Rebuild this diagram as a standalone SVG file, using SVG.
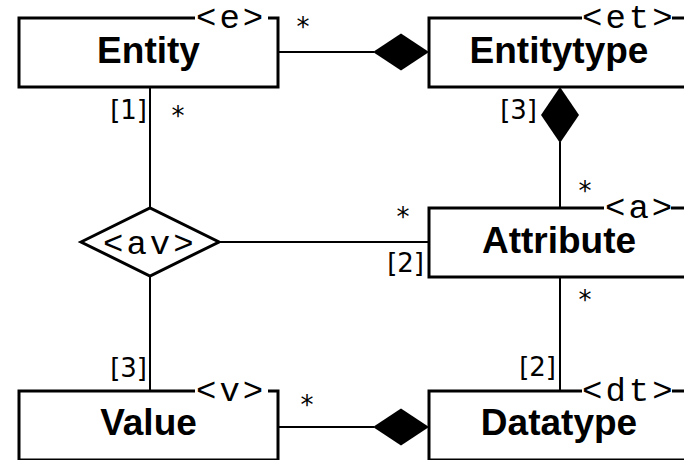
<svg xmlns="http://www.w3.org/2000/svg" width="684" height="460" viewBox="0 0 684 460">
<style>
.box{fill:#fff;stroke:#000;stroke-width:3}
.name{font-family:"Liberation Sans",Arial,sans-serif;font-weight:bold;font-size:37px;text-anchor:middle;fill:#000}
.tag{font-family:"Liberation Mono","Courier New",monospace;font-size:34px;letter-spacing:3px;fill:#000}
.bg{fill:#fff}
.card{font-family:"DejaVu Sans",sans-serif;font-size:26px;fill:#000}
.end{text-anchor:end}
.mid{text-anchor:middle}
.line{stroke:#000;stroke-width:2;fill:none}
.comp{fill:#000}
</style>
<rect width="684" height="460" fill="#fff"/>
<g id="connectors">
<line class="line" x1="278" y1="52" x2="374" y2="52"/>
<polygon class="comp" points="373,52 401,33.5 429,52 401,70.5"/>
<line class="line" x1="560" y1="142" x2="560" y2="208"/>
<polygon class="comp" points="560,87 579,115 560,143 541,115"/>
<line class="line" x1="150" y1="87" x2="150" y2="208"/>
<line class="line" x1="219" y1="242" x2="429" y2="242"/>
<line class="line" x1="150" y1="276" x2="150" y2="391"/>
<line class="line" x1="560" y1="277" x2="560" y2="391"/>
<line class="line" x1="278" y1="427" x2="374" y2="427"/>
<polygon class="comp" points="373,427 401,408.5 429,427 401,445.5"/>
<text class="card mid" x="303" y="36">*</text>
<text class="card end" x="147" y="119">[1]</text>
<text class="card mid" x="178" y="125">*</text>
<text class="card end" x="537" y="119">[3]</text>
<text class="card mid" x="585" y="200">*</text>
<text class="card mid" x="403" y="226">*</text>
<text class="card end" x="424" y="272">[2]</text>
<text class="card mid" x="585" y="309">*</text>
<text class="card end" x="556" y="376">[2]</text>
<text class="card end" x="147" y="377">[3]</text>
<text class="card mid" x="307" y="414">*</text>
</g>
<g id="entity">
<rect class="box" x="19" y="18" width="259" height="69"/>
<rect class="bg" x="195" y="12" width="73" height="12"/>
<text class="tag" x="196" y="28">&lt;e&gt;</text>
<text class="name" x="148.5" y="63">Entity</text>
</g>
<g id="entitytype">
<rect class="box" x="429" y="18" width="260" height="69"/>
<rect class="bg" x="582" y="12" width="90" height="12"/>
<text class="tag" x="582" y="28">&lt;et&gt;</text>
<text class="name" x="559" y="63">Entitytype</text>
</g>
<g id="av">
<polygon class="box" points="81,242 150,208 219,242 150,276"/>
<text class="tag" x="103" y="254">&lt;av&gt;</text>
</g>
<g id="attribute">
<rect class="box" x="429" y="208" width="260" height="69"/>
<rect class="bg" x="604" y="202" width="67" height="12"/>
<text class="tag" x="605" y="218">&lt;a&gt;</text>
<text class="name" x="559" y="253">Attribute</text>
</g>
<g id="value">
<rect class="box" x="19" y="391" width="259" height="69"/>
<rect class="bg" x="195" y="385" width="73" height="12"/>
<text class="tag" x="196" y="401">&lt;v&gt;</text>
<text class="name" x="148.5" y="435">Value</text>
</g>
<g id="datatype">
<rect class="box" x="429" y="391" width="260" height="69"/>
<rect class="bg" x="582" y="385" width="90" height="12"/>
<text class="tag" x="582" y="401">&lt;dt&gt;</text>
<text class="name" x="559" y="435">Datatype</text>
</g>
</svg>
